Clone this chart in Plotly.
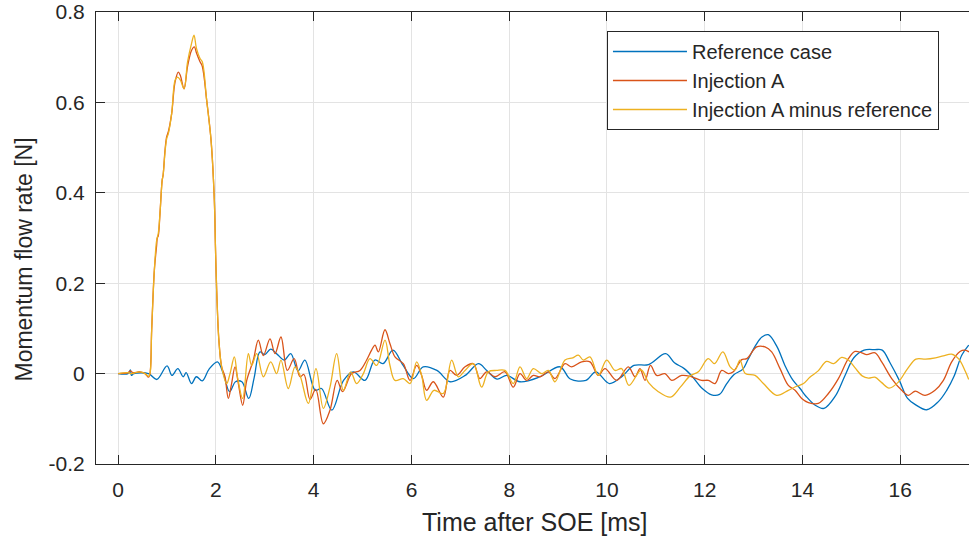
import plotly.graph_objects as go

# ---------------- data ----------------
ref_t = [0.0, 0.2, 0.25, 0.27, 0.32, 0.62, 0.79, 1.0, 1.1, 1.22, 1.33, 1.39, 1.50, 1.60, 1.72, 1.86,
         2.03, 2.15, 2.28, 2.40, 2.53, 2.67, 2.78, 2.90, 3.00, 3.12, 3.26, 3.40, 3.53, 3.68, 3.82,
         4.03, 4.16, 4.37, 4.61, 4.81, 5.05, 5.25, 5.42, 5.62, 5.83, 6.04, 6.24, 6.52, 6.79, 7.10,
         7.37, 7.54, 7.75, 7.95, 8.22, 8.63, 9.04, 9.25, 9.57, 9.77, 10.05, 10.32, 10.55, 10.85,
         11.2, 11.38, 11.58, 11.75, 11.95, 12.14, 12.30, 12.45, 12.60, 12.78, 12.88, 13.05, 13.17,
         13.30, 13.48, 13.64, 13.80, 13.95, 14.07, 14.26, 14.44, 14.67, 14.87, 15.05, 15.26, 15.48,
         15.63, 15.79, 15.98, 16.15, 16.30, 16.54, 16.78, 16.95, 17.10, 17.26, 17.40]
ref_v = [0.0, 0.0, 0.008, -0.004, 0.0, 0.0, -0.013, 0.017, -0.004, 0.011, -0.007, 0.002, -0.022,
         -0.007, -0.016, 0.01, 0.026, 0.0, -0.04, -0.018, -0.018, -0.055, -0.01, 0.048, 0.042,
         0.054, 0.042, 0.03, 0.044, 0.006, 0.03, -0.037, -0.033, -0.081, -0.015, 0.004, -0.015,
         0.03, 0.022, 0.052, 0.018, -0.011, 0.015, 0.007, -0.018, -0.004, 0.022, 0.007, -0.012,
         -0.004, -0.018, -0.007, 0.015, -0.012, -0.015, 0.004, -0.022, -0.005, 0.018, 0.02, 0.044,
         0.024, 0.011, -0.007, -0.033, -0.047, -0.046, -0.022, -0.002, 0.01, 0.03, 0.064, 0.081,
         0.086, 0.059, 0.018, -0.014, -0.033, -0.05, -0.07, -0.077, -0.05, -0.004, 0.035, 0.052,
         0.053, 0.052, 0.024, -0.015, -0.055, -0.068, -0.08, -0.062, -0.037, -0.006, 0.041, 0.063]

inj_t = [0.0, 0.2, 0.25, 0.3, 0.45, 0.55, 0.62, 0.65, 0.685, 0.74, 0.787, 0.80, 0.82, 0.855, 0.9,
         0.92, 0.958, 0.992, 1.026, 1.094, 1.163, 1.23, 1.27, 1.347, 1.42, 1.50, 1.558, 1.60, 1.674,
         1.72, 1.81, 1.90, 1.967, 1.99, 2.015, 2.06, 2.117, 2.185, 2.253, 2.32, 2.39, 2.458, 2.547,
         2.63, 2.765, 2.867, 2.97, 3.106, 3.208, 3.33, 3.46, 3.60, 3.72, 3.80, 3.924, 4.04, 4.197,
         4.333, 4.48, 4.59, 4.776, 4.947, 5.083, 5.185, 5.254, 5.322, 5.458, 5.56, 5.663, 5.833,
         5.97, 6.106, 6.208, 6.31, 6.447, 6.651, 6.788, 6.924, 7.095, 7.265, 7.40, 7.538, 7.709,
         7.913, 8.083, 8.22, 8.357, 8.493, 8.63, 8.8, 8.936, 9.141, 9.277, 9.482, 9.652, 9.823,
         9.959, 10.198, 10.436, 10.573, 10.675, 10.778, 10.89, 11.017, 11.187, 11.324, 11.528,
         11.733, 11.937, 12.074, 12.21, 12.347, 12.483, 12.585, 12.756, 12.858, 13.062, 13.233,
         13.369, 13.54, 13.71, 13.847, 13.983, 14.12, 14.324, 14.529, 14.734, 14.938, 15.075,
         15.211, 15.313, 15.484, 15.62, 15.825, 16.029, 16.166, 16.302, 16.507, 16.711, 16.882,
         17.052, 17.222, 17.325, 17.407]
inj_v = [0.0, 0.002, 0.006, 0.002, 0.004, 0.0, -0.008, 0.0, 0.096, 0.229, 0.284, 0.30, 0.305,
         0.354, 0.428, 0.44, 0.494, 0.524, 0.535, 0.575, 0.645, 0.667, 0.66, 0.63, 0.68, 0.715,
         0.723, 0.71, 0.69, 0.68, 0.605, 0.516, 0.383, 0.28, 0.184, 0.074, 0.015, -0.007, -0.055,
         -0.022, 0.015, -0.022, -0.07, -0.015, 0.03, 0.074, 0.04, 0.077, 0.044, 0.081, 0.007,
         0.033, -0.007, -0.002, -0.057, -0.035, -0.111, -0.081, -0.015, -0.04, 0.0, 0.007, 0.03,
         0.052, 0.063, 0.048, 0.097, 0.066, 0.037, 0.022, -0.015, 0.018, -0.004, -0.037, -0.018,
         -0.052, 0.007, -0.004, 0.015, 0.022, -0.011, 0.004, -0.007, 0.004, -0.03, 0.0, -0.015,
         -0.004, -0.007, 0.004, -0.011, 0.022, 0.015, 0.026, 0.026, -0.004, 0.011, -0.015, 0.015,
         -0.007, 0.011, -0.015, 0.018, -0.004, 0.0, -0.015, -0.004, -0.007, -0.015, -0.015,
         -0.022, 0.007, 0.0, 0.004, 0.031, 0.033, 0.059, 0.059, 0.048, 0.011, -0.026, -0.037,
         -0.055, -0.064, -0.066, -0.044, -0.011, 0.033, 0.049, 0.046, 0.042, 0.046, 0.026, -0.011,
         -0.037, -0.048, -0.039, -0.048, -0.037, -0.015, 0.026, 0.049, 0.052, 0.048]

diff_t = [0.0, 0.2, 0.25, 0.45, 0.55, 0.62, 0.65, 0.685, 0.74, 0.787, 0.82, 0.855, 0.9, 0.92,
          0.958, 0.992, 1.026, 1.094, 1.163, 1.21, 1.27, 1.347, 1.42, 1.50, 1.551, 1.60, 1.674,
          1.72, 1.81, 1.90, 1.967, 1.99, 2.015, 2.06, 2.117, 2.22, 2.288, 2.376, 2.44, 2.547,
          2.663, 2.73, 2.833, 2.97, 3.12, 3.242, 3.33, 3.48, 3.617, 3.72, 3.89, 4.046, 4.197,
          4.333, 4.47, 4.606, 4.756, 4.878, 5.015, 5.151, 5.288, 5.458, 5.56, 5.663, 5.833, 5.97,
          6.106, 6.208, 6.31, 6.46, 6.651, 6.822, 6.958, 7.095, 7.265, 7.435, 7.572, 7.743, 7.913,
          8.083, 8.22, 8.357, 8.493, 8.663, 8.8, 8.936, 9.141, 9.3, 9.414, 9.516, 9.652, 9.823,
          9.993, 10.164, 10.3, 10.45, 10.7, 10.85, 11.05, 11.3, 11.5, 11.7, 11.87, 12.07, 12.2,
          12.37, 12.52, 12.62, 12.72, 12.83, 13.03, 13.2, 13.47, 13.71, 13.88, 14.02, 14.15, 14.32,
          14.49, 14.64, 14.8, 14.94, 15.08, 15.22, 15.35, 15.48, 15.62, 15.77, 15.95, 16.15, 16.32,
          16.52, 16.72, 16.88, 17.05, 17.2, 17.33, 17.40]
diff_v = [0.0, 0.002, 0.0, 0.004, 0.0, -0.006, 0.0, 0.096, 0.229, 0.295, 0.31, 0.354, 0.428,
          0.44, 0.49, 0.52, 0.531, 0.575, 0.649, 0.656, 0.65, 0.63, 0.69, 0.73, 0.749, 0.72, 0.697,
          0.69, 0.605, 0.516, 0.383, 0.28, 0.184, 0.074, 0.015, -0.022, 0.0, 0.037, -0.007, -0.055,
          0.044, 0.018, 0.044, -0.007, 0.026, 0.0, 0.03, -0.033, 0.015, -0.004, -0.066, 0.011,
          -0.077, -0.03, 0.044, -0.037, 0.004, -0.022, 0.0, 0.033, 0.018, 0.074, 0.018, -0.015,
          -0.011, -0.022, 0.026, -0.004, -0.059, -0.037, -0.044, 0.03, -0.007, 0.007, 0.022,
          -0.03, 0.004, 0.007, 0.007, -0.022, 0.015, -0.011, 0.011, 0.0, 0.007, -0.018, 0.03,
          0.035, 0.041, 0.03, 0.037, -0.004, 0.03, 0.007, 0.011, -0.026, 0.008, -0.02, -0.04,
          -0.052, -0.03, -0.005, 0.004, 0.033, 0.022, 0.048, 0.015, 0.008, 0.03, 0.0, -0.004,
          -0.022, -0.048, -0.037, -0.028, -0.022, -0.008, 0.006, 0.027, 0.022, 0.036, 0.03, 0.012,
          -0.005, -0.01, -0.008, -0.02, -0.032, -0.02, 0.011, 0.032, 0.032, 0.035, 0.039, 0.043,
          0.032, 0.005, -0.013]

series_names = ["Reference case", "Injection A", "Injection A minus reference"]
series_colors = ["#0072BD", "#D95319", "#EDB120"]

x_ticks = [0, 2, 4, 6, 8, 10, 12, 14, 16]
y_ticks = [-0.2, 0, 0.2, 0.4, 0.6, 0.8]
y_ticktext = ["-0.2", "0", "0.2", "0.4", "0.6", "0.8"]

x_title = "Time after SOE [ms]"
y_title = "Momentum flow rate [N]"

# ---------------- figure ----------------
FONT = "Liberation Sans, Arial, Helvetica, sans-serif"
INK = "#262626"

fig = go.Figure()
for t, v, name, col in zip([ref_t, inj_t, diff_t], [ref_v, inj_v, diff_v], series_names, series_colors):
    fig.add_trace(go.Scatter(x=t, y=v, mode="lines", name=name,
                             line=dict(color=col, width=1.3, shape="spline", smoothing=1.0)))

fig.update_layout(
    width=969, height=540,
    margin=dict(l=96, r=0, t=12, b=76, pad=0),
    paper_bgcolor="white", plot_bgcolor="white",
    font=dict(family=FONT, color=INK, size=21),
    showlegend=True,
    legend=dict(x=0.5853, y=0.958, xanchor="left", yanchor="top",
                bgcolor="white", bordercolor=INK, borderwidth=1,
                font=dict(family=FONT, size=20, color=INK),
                itemwidth=74, tracegroupgap=0),
    annotations=[
        dict(text=x_title, xref="paper", yref="paper", x=0.503, y=-0.128,
             xanchor="center", yanchor="middle", showarrow=False,
             font=dict(family=FONT, size=25, color=INK)),
        dict(text=y_title, xref="paper", yref="paper", x=-0.0836, y=0.4524,
             xanchor="center", yanchor="middle", showarrow=False, textangle=-90,
             font=dict(family=FONT, size=23, color=INK)),
    ],
)

fig.update_xaxes(range=[-0.454, 17.406], tickvals=x_ticks, ticks="inside", ticklen=9,
                 tickcolor=INK, showline=True, linecolor=INK, linewidth=1, mirror="ticks",
                 showgrid=True, gridcolor="#e3e3e3", gridwidth=1, zeroline=False,
                 tickfont=dict(family=FONT, size=21, color=INK), ticklabelstandoff=7)
fig.update_yaxes(range=[-0.2, 0.8], tickvals=y_ticks, ticktext=y_ticktext, ticks="inside",
                 ticklen=9, tickcolor=INK, showline=True, linecolor=INK, linewidth=1,
                 mirror=False, showgrid=True, gridcolor="#e3e3e3", gridwidth=1, zeroline=False,
                 tickfont=dict(family=FONT, size=21, color=INK), ticklabelstandoff=6)

fig.write_html("out.html")
